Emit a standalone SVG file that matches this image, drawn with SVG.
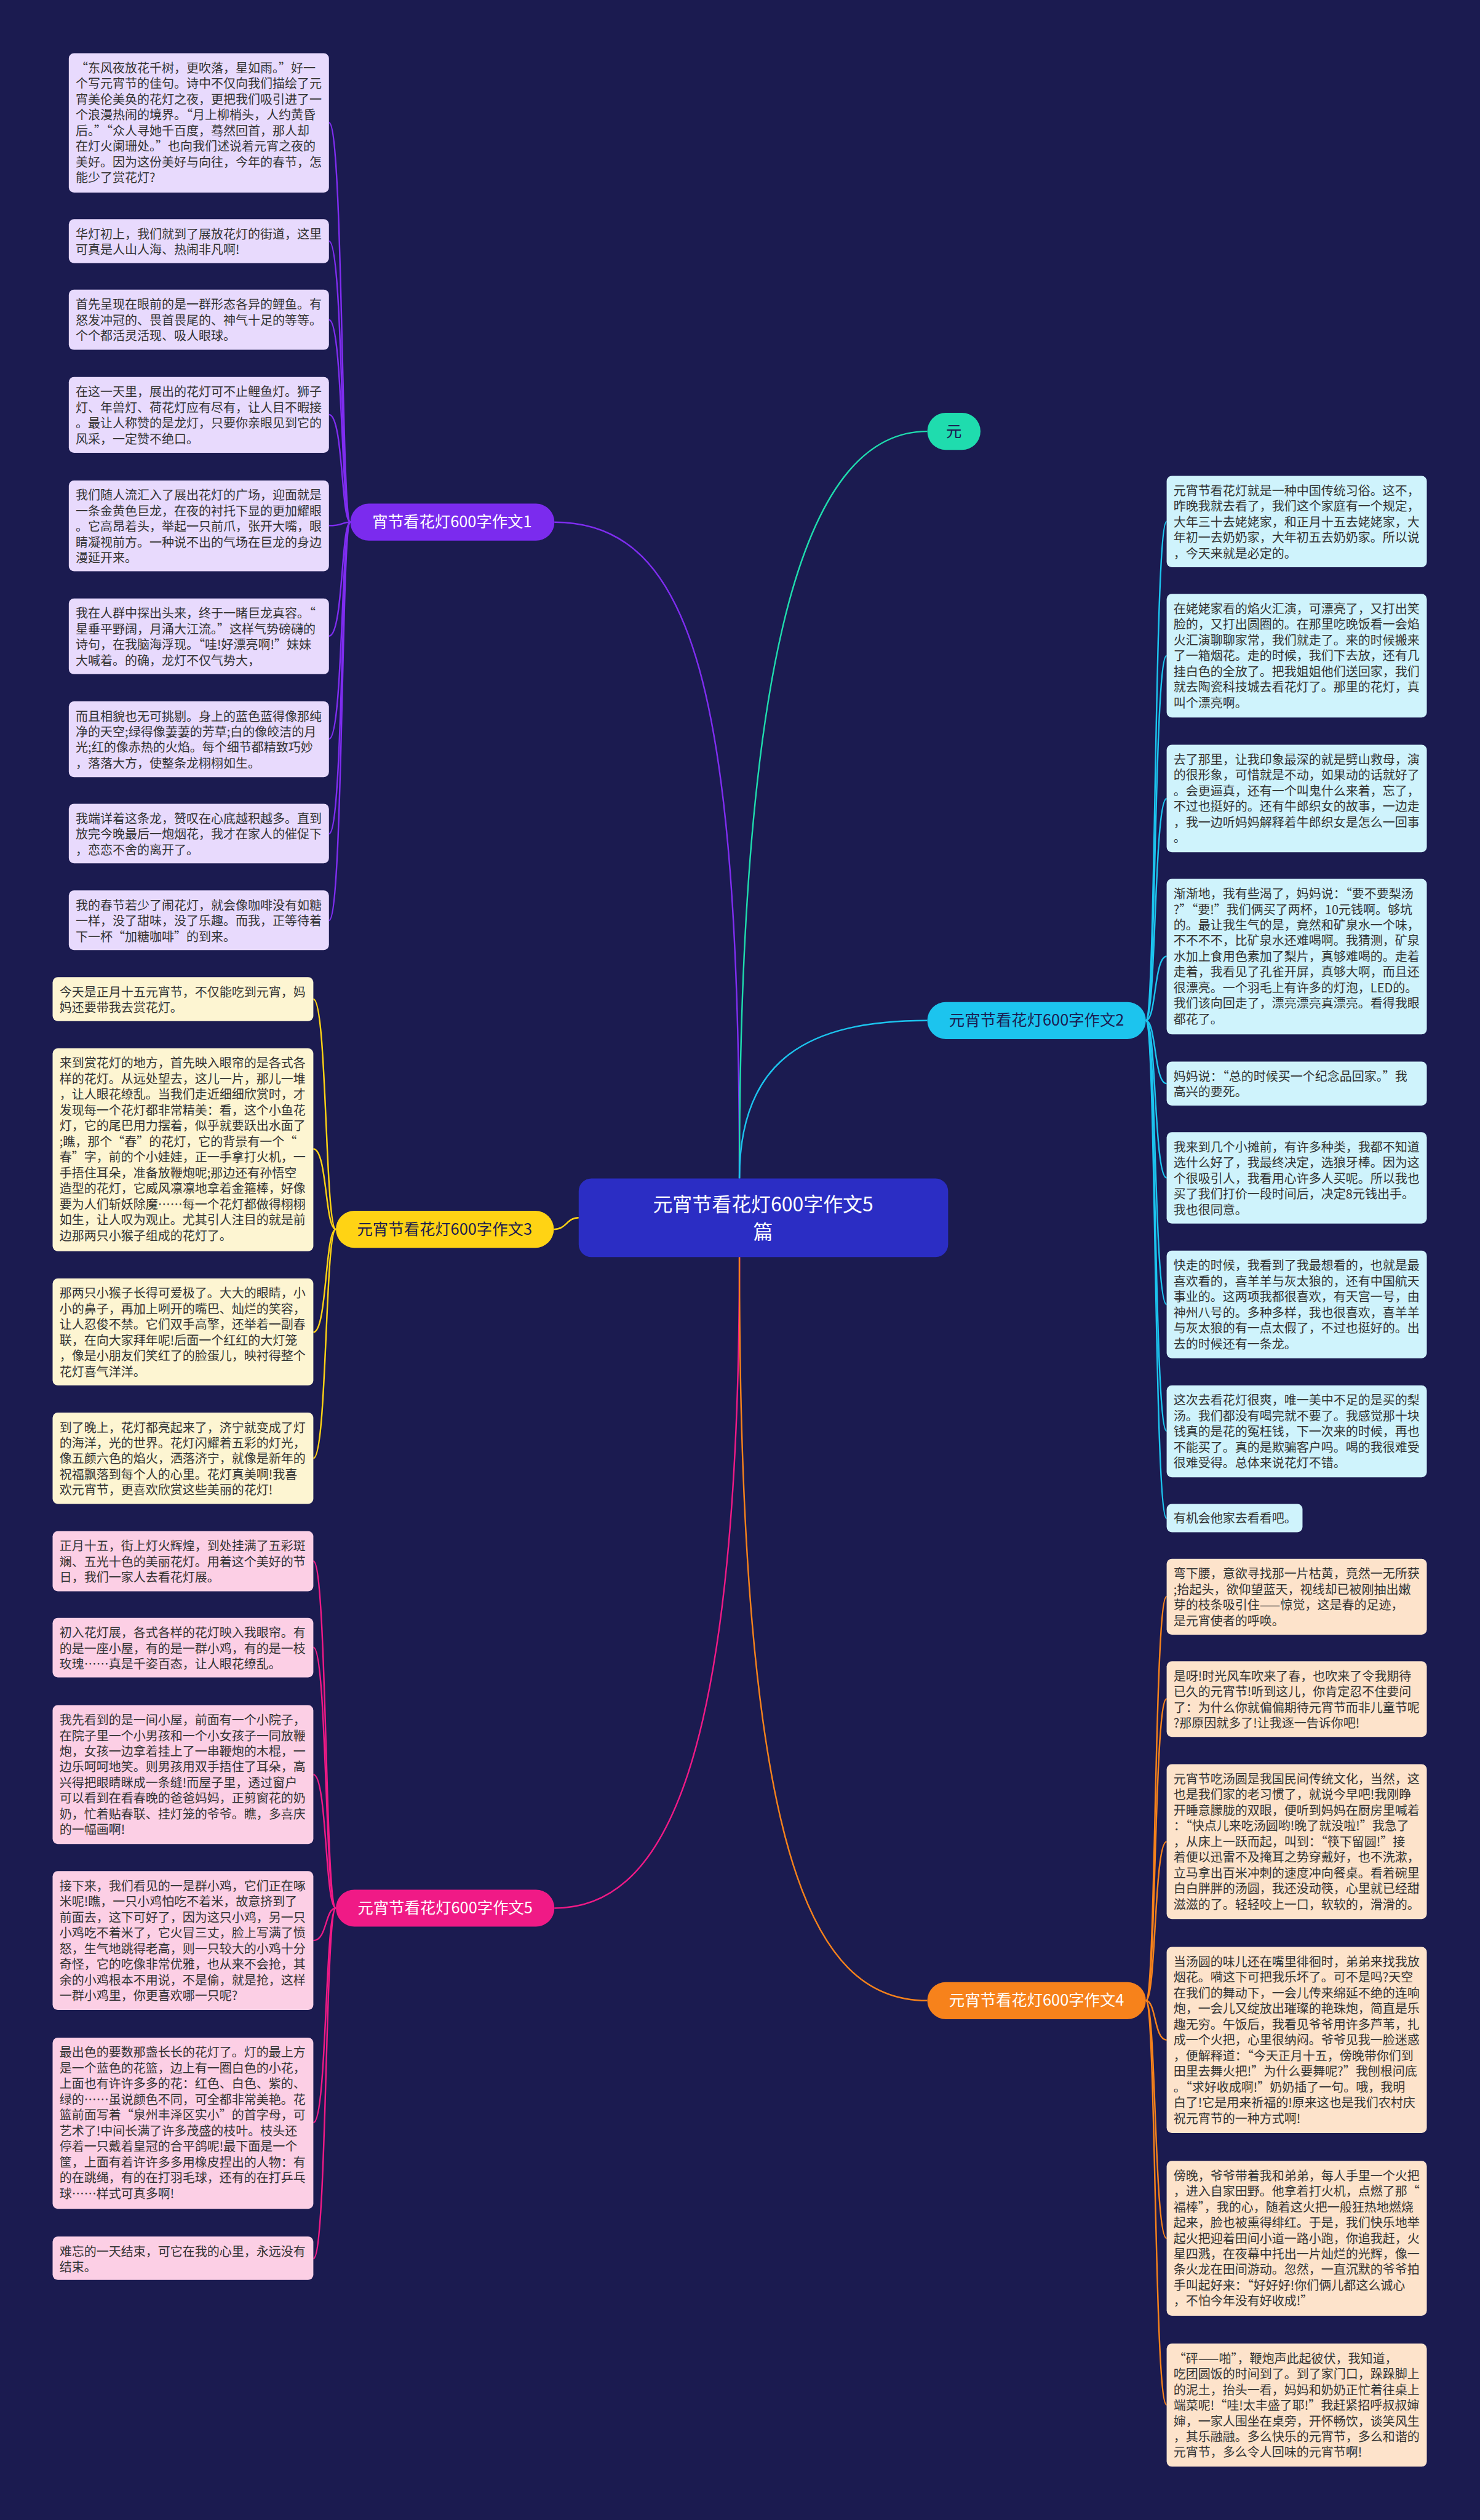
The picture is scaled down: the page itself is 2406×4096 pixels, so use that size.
<svg xmlns="http://www.w3.org/2000/svg" width="2406" height="4096" viewBox="0 0 2406 4096">
<style>
.t{font-family:"Noto Sans CJK SC","Noto Sans",sans-serif;font-size:21.3px;fill:#333}
.pt{font-family:"Noto Sans CJK SC","Noto Sans",sans-serif;font-size:27px;text-anchor:middle}
.rt{font-family:"Noto Sans CJK SC","Noto Sans",sans-serif;font-size:34px;text-anchor:middle;fill:#fff}
.c{fill:none;stroke-width:2.6}
.bp{fill:#e8dafd}.by{fill:#fdf5d2}.bk{fill:#fccfe5}.bc{fill:#cff3fc}.bo{fill:#fde3cb}
</style>
<rect width="2406" height="4096" fill="#1b1b50"/>
<g transform="scale(0.93984)">
<g id="connectors">
<path class="c" stroke="#7f2df0" stroke-width="3.2" d="M1279 2038 C1279 1200 1200 903 959 903"/>
<path class="c" stroke="#1fdcae" stroke-width="3.2" d="M1279 2038 C1279 1100 1400 746 1604 746"/>
<path class="c" stroke="#1cc4ee" stroke-width="3.2" d="M1279 2038 C1279 1830 1400 1765 1604 1765"/>
<path class="c" stroke="#ffd314" stroke-width="3.2" d="M1001 2106 C980 2106 980 2126 958 2126"/>
<path class="c" stroke="#f01a86" stroke-width="3.2" d="M1279 2174 C1279 3050 1150 3300 959 3300"/>
<path class="c" stroke="#f7821b" stroke-width="3.2" d="M1279 2174 C1279 3200 1400 3460 1604 3460"/>
<g stroke="#7f2df0">
<path class="c" d="M606 903 C590 903 594 212 569 212"/>
<path class="c" d="M606 903 C590 903 594 417 569 417"/>
<path class="c" d="M606 903 C590 903 594 553 569 553"/>
<path class="c" d="M606 903 C590 903 594 717 569 717"/>
<path class="c" d="M606 903 C590 903 594 909 569 909"/>
<path class="c" d="M606 903 C590 903 594 1100 569 1100"/>
<path class="c" d="M606 903 C590 903 594 1278 569 1278"/>
<path class="c" d="M606 903 C590 903 594 1442 569 1442"/>
<path class="c" d="M606 903 C590 903 594 1592 569 1592"/>
</g>
<g stroke="#ffd314">
<path class="c" d="M581 2126 C562 2126 566 1728 542 1728"/>
<path class="c" d="M581 2126 C562 2126 566 1987 542 1987"/>
<path class="c" d="M581 2126 C562 2126 566 2304 542 2304"/>
<path class="c" d="M581 2126 C562 2126 566 2522 542 2522"/>
</g>
<g stroke="#f01a86">
<path class="c" d="M581 3300 C562 3300 566 2700 542 2700"/>
<path class="c" d="M581 3300 C562 3300 566 2849 542 2849"/>
<path class="c" d="M581 3300 C562 3300 566 3069 542 3069"/>
<path class="c" d="M581 3300 C562 3300 566 3356 542 3356"/>
<path class="c" d="M581 3300 C562 3300 566 3671 542 3671"/>
<path class="c" d="M581 3300 C562 3300 566 3906 542 3906"/>
</g>
<g stroke="#1cc4ee">
<path class="c" d="M1982 1765 C2000 1765 1996 902 2018 902"/>
<path class="c" d="M1982 1765 C2000 1765 1996 1134 2018 1134"/>
<path class="c" d="M1982 1765 C2000 1765 1996 1381 2018 1381"/>
<path class="c" d="M1982 1765 C2000 1765 1996 1654 2018 1654"/>
<path class="c" d="M1982 1765 C2000 1765 1996 1874 2018 1874"/>
<path class="c" d="M1982 1765 C2000 1765 1996 2037 2018 2037"/>
<path class="c" d="M1982 1765 C2000 1765 1996 2256 2018 2256"/>
<path class="c" d="M1982 1765 C2000 1765 1996 2475 2018 2475"/>
<path class="c" d="M1982 1765 C2000 1765 1996 2626 2018 2626"/>
</g>
<g stroke="#f7821b">
<path class="c" d="M1982 3460 C2000 3460 1996 2761 2018 2761"/>
<path class="c" d="M1982 3460 C2000 3460 1996 2938 2018 2938"/>
<path class="c" d="M1982 3460 C2000 3460 1996 3185 2018 3185"/>
<path class="c" d="M1982 3460 C2000 3460 1996 3528 2018 3528"/>
<path class="c" d="M1982 3460 C2000 3460 1996 3871 2018 3871"/>
<path class="c" d="M1982 3460 C2000 3460 1996 4159 2018 4159"/>
</g>
</g>

<g id="root">
<rect x="1001" y="2038" width="639" height="136" rx="22" fill="#2b2dc4"/>
<text class="rt" x="1320" y="2095">元宵节看花灯600字作文5</text>
<text class="rt" x="1320" y="2143">篇</text>
</g>

<g id="b1"><rect x="606" y="871" width="353" height="64" rx="32" fill="#7b2bee"/><text class="pt" x="782" y="912" fill="#fff">宵节看花灯600字作文1</text></g>
<g id="b0"><rect x="1604" y="714" width="92" height="64" rx="32" fill="#1fdcae"/><text class="pt" x="1650" y="755" fill="#1b1b50">元</text></g>
<g id="b2"><rect x="1604" y="1733" width="378" height="64" rx="32" fill="#1cc4ee"/><text class="pt" x="1793" y="1774" fill="#1b1b50">元宵节看花灯600字作文2</text></g>
<g id="b3"><rect x="581" y="2094" width="377" height="64" rx="32" fill="#ffd314"/><text class="pt" x="769" y="2135" fill="#1b1b50">元宵节看花灯600字作文3</text></g>
<g id="b5"><rect x="581" y="3268" width="378" height="64" rx="32" fill="#f01a86"/><text class="pt" x="770" y="3309" fill="#fff">元宵节看花灯600字作文5</text></g>
<g id="b4"><rect x="1604" y="3428" width="378" height="64" rx="32" fill="#f7821b"/><text class="pt" x="1793" y="3469" fill="#fff">元宵节看花灯600字作文4</text></g>

<g id="a1" transform="translate(119,92)"><rect class="bp" width="450" height="241" rx="9"/>
<text class="t" x="12" y="33.5">“东风夜放花千树，更吹落，星如雨。”好一</text>
<text class="t" x="12" y="60.6">个写元宵节的佳句。诗中不仅向我们描绘了元</text>
<text class="t" x="12" y="87.7">宵美伦美奂的花灯之夜，更把我们吸引进了一</text>
<text class="t" x="12" y="114.8">个浪漫热闹的境界。“月上柳梢头，人约黄昏</text>
<text class="t" x="12" y="141.9">后。”“众人寻她千百度，蓦然回首，那人却</text>
<text class="t" x="12" y="169">在灯火阑珊处。”也向我们述说着元宵之夜的</text>
<text class="t" x="12" y="196.1">美好。因为这份美好与向往，今年的春节，怎</text>
<text class="t" x="12" y="223.2">能少了赏花灯?</text></g>
<g id="a2" transform="translate(119,379)"><rect class="bp" width="450" height="76" rx="9"/>
<text class="t" x="12" y="33.5">华灯初上，我们就到了展放花灯的街道，这里</text>
<text class="t" x="12" y="60.6">可真是人山人海、热闹非凡啊!</text></g>
<g id="a3" transform="translate(119,501)"><rect class="bp" width="450" height="104" rx="9"/>
<text class="t" x="12" y="33.5">首先呈现在眼前的是一群形态各异的鲤鱼。有</text>
<text class="t" x="12" y="60.6">怒发冲冠的、畏首畏尾的、神气十足的等等。</text>
<text class="t" x="12" y="87.7">个个都活灵活现、吸人眼球。</text></g>
<g id="a4" transform="translate(119,652)"><rect class="bp" width="450" height="131" rx="9"/>
<text class="t" x="12" y="33.5">在这一天里，展出的花灯可不止鲤鱼灯。狮子</text>
<text class="t" x="12" y="60.6">灯、年兽灯、荷花灯应有尽有，让人目不暇接</text>
<text class="t" x="12" y="87.7">。最让人称赞的是龙灯，只要你亲眼见到它的</text>
<text class="t" x="12" y="114.8">风采，一定赞不绝口。</text></g>
<g id="a5" transform="translate(119,831)"><rect class="bp" width="450" height="157" rx="9"/>
<text class="t" x="12" y="33.5">我们随人流汇入了展出花灯的广场，迎面就是</text>
<text class="t" x="12" y="60.6">一条金黄色巨龙，在夜的衬托下显的更加耀眼</text>
<text class="t" x="12" y="87.7">。它高昂着头，举起一只前爪，张开大嘴，眼</text>
<text class="t" x="12" y="114.8">睛凝视前方。一种说不出的气场在巨龙的身边</text>
<text class="t" x="12" y="141.9">漫延开来。</text></g>
<g id="a6" transform="translate(119,1035)"><rect class="bp" width="450" height="131" rx="9"/>
<text class="t" x="12" y="33.5">我在人群中探出头来，终于一睹巨龙真容。“</text>
<text class="t" x="12" y="60.6">星垂平野阔，月涌大江流。”这样气势磅礴的</text>
<text class="t" x="12" y="87.7">诗句，在我脑海浮现。“哇!好漂亮啊!”妹妹</text>
<text class="t" x="12" y="114.8">大喊着。的确，龙灯不仅气势大，</text></g>
<g id="a7" transform="translate(119,1213)"><rect class="bp" width="450" height="131" rx="9"/>
<text class="t" x="12" y="33.5">而且相貌也无可挑剔。身上的蓝色蓝得像那纯</text>
<text class="t" x="12" y="60.6">净的天空;绿得像萋萋的芳草;白的像皎洁的月</text>
<text class="t" x="12" y="87.7">光;红的像赤热的火焰。每个细节都精致巧妙</text>
<text class="t" x="12" y="114.8">，落落大方，使整条龙栩栩如生。</text></g>
<g id="a8" transform="translate(119,1390)"><rect class="bp" width="450" height="103" rx="9"/>
<text class="t" x="12" y="33.5">我端详着这条龙，赞叹在心底越积越多。直到</text>
<text class="t" x="12" y="60.6">放完今晚最后一炮烟花，我才在家人的催促下</text>
<text class="t" x="12" y="87.7">，恋恋不舍的离开了。</text></g>
<g id="a9" transform="translate(119,1540)"><rect class="bp" width="450" height="103" rx="9"/>
<text class="t" x="12" y="33.5">我的春节若少了闹花灯，就会像咖啡没有如糖</text>
<text class="t" x="12" y="60.6">一样，没了甜味，没了乐趣。而我，正等待着</text>
<text class="t" x="12" y="87.7">下一杯“加糖咖啡”的到来。</text></g>

<g id="y1" transform="translate(91,1690)"><rect class="by" width="451" height="76" rx="9"/>
<text class="t" x="12" y="33.5">今天是正月十五元宵节，不仅能吃到元宵，妈</text>
<text class="t" x="12" y="60.6">妈还要带我去赏花灯。</text></g>
<g id="y2" transform="translate(91,1813)"><rect class="by" width="451" height="351" rx="9"/>
<text class="t" x="12" y="33.5">来到赏花灯的地方，首先映入眼帘的是各式各</text>
<text class="t" x="12" y="60.6">样的花灯。从远处望去，这儿一片，那儿一堆</text>
<text class="t" x="12" y="87.7">，让人眼花缭乱。当我们走近细细欣赏时，才</text>
<text class="t" x="12" y="114.8">发现每一个花灯都非常精美：看，这个小鱼花</text>
<text class="t" x="12" y="141.9">灯，它的尾巴用力摆着，似乎就要跃出水面了</text>
<text class="t" x="12" y="169">;瞧，那个“春”的花灯，它的背景有一个“</text>
<text class="t" x="12" y="196.1">春”字，前的个小娃娃，正一手拿打火机，一</text>
<text class="t" x="12" y="223.2">手捂住耳朵，准备放鞭炮呢;那边还有孙悟空</text>
<text class="t" x="12" y="250.3">造型的花灯，它威风凛凛地拿着金箍棒，好像</text>
<text class="t" x="12" y="277.4">要为人们斩妖除魔……每一个花灯都做得栩栩</text>
<text class="t" x="12" y="304.5">如生，让人叹为观止。尤其引人注目的就是前</text>
<text class="t" x="12" y="331.6">边那两只小猴子组成的花灯了。</text></g>
<g id="y3" transform="translate(91,2211)"><rect class="by" width="451" height="185" rx="9"/>
<text class="t" x="12" y="33.5">那两只小猴子长得可爱极了。大大的眼睛，小</text>
<text class="t" x="12" y="60.6">小的鼻子，再加上咧开的嘴巴、灿烂的笑容，</text>
<text class="t" x="12" y="87.7">让人忍俊不禁。它们双手高擎，还举着一副春</text>
<text class="t" x="12" y="114.8">联，在向大家拜年呢!后面一个红红的大灯笼</text>
<text class="t" x="12" y="141.9">，像是小朋友们笑红了的脸蛋儿，映衬得整个</text>
<text class="t" x="12" y="169">花灯喜气洋洋。</text></g>
<g id="y4" transform="translate(91,2443)"><rect class="by" width="451" height="158" rx="9"/>
<text class="t" x="12" y="33.5">到了晚上，花灯都亮起来了，济宁就变成了灯</text>
<text class="t" x="12" y="60.6">的海洋，光的世界。花灯闪耀着五彩的灯光，</text>
<text class="t" x="12" y="87.7">像五颜六色的焰火，洒落济宁，就像是新年的</text>
<text class="t" x="12" y="114.8">祝福飘落到每个人的心里。花灯真美啊!我喜</text>
<text class="t" x="12" y="141.9">欢元宵节，更喜欢欣赏这些美丽的花灯!</text></g>

<g id="k1" transform="translate(91,2648)"><rect class="bk" width="451" height="104" rx="9"/>
<text class="t" x="12" y="33.5">正月十五，街上灯火辉煌，到处挂满了五彩斑</text>
<text class="t" x="12" y="60.6">斓、五光十色的美丽花灯。用着这个美好的节</text>
<text class="t" x="12" y="87.7">日，我们一家人去看花灯展。</text></g>
<g id="k2" transform="translate(91,2798)"><rect class="bk" width="451" height="103" rx="9"/>
<text class="t" x="12" y="33.5">初入花灯展，各式各样的花灯映入我眼帘。有</text>
<text class="t" x="12" y="60.6">的是一座小屋，有的是一群小鸡，有的是一枝</text>
<text class="t" x="12" y="87.7">玫瑰……真是千姿百态，让人眼花缭乱。</text></g>
<g id="k3" transform="translate(91,2949)"><rect class="bk" width="451" height="240" rx="9"/>
<text class="t" x="12" y="33.5">我先看到的是一间小屋，前面有一个小院子，</text>
<text class="t" x="12" y="60.6">在院子里一个小男孩和一个小女孩子一同放鞭</text>
<text class="t" x="12" y="87.7">炮，女孩一边拿着挂上了一串鞭炮的木棍，一</text>
<text class="t" x="12" y="114.8">边乐呵呵地笑。则男孩用双手捂住了耳朵，高</text>
<text class="t" x="12" y="141.9">兴得把眼睛眯成一条缝!而屋子里，透过窗户</text>
<text class="t" x="12" y="169">可以看到在看春晚的爸爸妈妈，正剪窗花的奶</text>
<text class="t" x="12" y="196.1">奶，忙着贴春联、挂灯笼的爷爷。瞧，多喜庆</text>
<text class="t" x="12" y="223.2">的一幅画啊!</text></g>
<g id="k4" transform="translate(91,3236)"><rect class="bk" width="451" height="240" rx="9"/>
<text class="t" x="12" y="33.5">接下来，我们看见的一是群小鸡，它们正在啄</text>
<text class="t" x="12" y="60.6">米呢!瞧，一只小鸡怕吃不着米，故意挤到了</text>
<text class="t" x="12" y="87.7">前面去，这下可好了，因为这只小鸡，另一只</text>
<text class="t" x="12" y="114.8">小鸡吃不着米了，它火冒三丈，脸上写满了愤</text>
<text class="t" x="12" y="141.9">怒，生气地跳得老高，则一只较大的小鸡十分</text>
<text class="t" x="12" y="169">奇怪，它的吃像非常优雅，也从来不会抢，其</text>
<text class="t" x="12" y="196.1">余的小鸡根本不用说，不是偷，就是抢，这样</text>
<text class="t" x="12" y="223.2">一群小鸡里，你更喜欢哪一只呢?</text></g>
<g id="k5" transform="translate(91,3524)"><rect class="bk" width="451" height="296" rx="9"/>
<text class="t" x="12" y="33.5">最出色的要数那盏长长的花灯了。灯的最上方</text>
<text class="t" x="12" y="60.6">是一个蓝色的花篮，边上有一圈白色的小花，</text>
<text class="t" x="12" y="87.7">上面也有许许多多的花：红色、白色、紫的、</text>
<text class="t" x="12" y="114.8">绿的……虽说颜色不同，可全都非常美艳。花</text>
<text class="t" x="12" y="141.9">篮前面写着“泉州丰泽区实小”的首字母，可</text>
<text class="t" x="12" y="169">艺术了!中间长满了许多茂盛的枝叶。枝头还</text>
<text class="t" x="12" y="196.1">停着一只戴着皇冠的合平鸽呢!最下面是一个</text>
<text class="t" x="12" y="223.2">筐，上面有着许许多多用橡皮捏出的人物：有</text>
<text class="t" x="12" y="250.3">的在跳绳，有的在打羽毛球，还有的在打乒乓</text>
<text class="t" x="12" y="277.4">球……样式可真多啊!</text></g>
<g id="k6" transform="translate(91,3868)"><rect class="bk" width="451" height="75" rx="9"/>
<text class="t" x="12" y="33.5">难忘的一天结束，可它在我的心里，永远没有</text>
<text class="t" x="12" y="60.6">结束。</text></g>

<g id="c1" transform="translate(2018,823)"><rect class="bc" width="450" height="158" rx="9"/>
<text class="t" x="12" y="33.5">元宵节看花灯就是一种中国传统习俗。这不，</text>
<text class="t" x="12" y="60.6">昨晚我就去看了，我们这个家庭有一个规定，</text>
<text class="t" x="12" y="87.7">大年三十去姥姥家，和正月十五去姥姥家，大</text>
<text class="t" x="12" y="114.8">年初一去奶奶家，大年初五去奶奶家。所以说</text>
<text class="t" x="12" y="141.9">，今天来就是必定的。</text></g>
<g id="c2" transform="translate(2018,1027)"><rect class="bc" width="450" height="214" rx="9"/>
<text class="t" x="12" y="33.5">在姥姥家看的焰火汇演，可漂亮了，又打出笑</text>
<text class="t" x="12" y="60.6">脸的，又打出圆圈的。在那里吃晚饭看一会焰</text>
<text class="t" x="12" y="87.7">火汇演聊聊家常，我们就走了。来的时候搬来</text>
<text class="t" x="12" y="114.8">了一箱烟花。走的时候，我们下去放，还有几</text>
<text class="t" x="12" y="141.9">挂白色的全放了。把我姐姐他们送回家，我们</text>
<text class="t" x="12" y="169">就去陶瓷科技城去看花灯了。那里的花灯，真</text>
<text class="t" x="12" y="196.1">叫个漂亮啊。</text></g>
<g id="c3" transform="translate(2018,1288)"><rect class="bc" width="450" height="186" rx="9"/>
<text class="t" x="12" y="33.5">去了那里，让我印象最深的就是劈山救母，演</text>
<text class="t" x="12" y="60.6">的很形象，可惜就是不动，如果动的话就好了</text>
<text class="t" x="12" y="87.7">。会更逼真，还有一个叫鬼什么来着，忘了，</text>
<text class="t" x="12" y="114.8">不过也挺好的。还有牛郎织女的故事，一边走</text>
<text class="t" x="12" y="141.9">，我一边听妈妈解释着牛郎织女是怎么一回事</text>
<text class="t" x="12" y="169">。</text></g>
<g id="c4" transform="translate(2018,1520)"><rect class="bc" width="450" height="269" rx="9"/>
<text class="t" x="12" y="33.5">渐渐地，我有些渴了，妈妈说：“要不要梨汤</text>
<text class="t" x="12" y="60.6">?”“要!”我们俩买了两杯，10元钱啊。够坑</text>
<text class="t" x="12" y="87.7">的。最让我生气的是，竟然和矿泉水一个味，</text>
<text class="t" x="12" y="114.8">不不不不，比矿泉水还难喝啊。我猜测，矿泉</text>
<text class="t" x="12" y="141.9">水加上食用色素加了梨片，真够难喝的。走着</text>
<text class="t" x="12" y="169">走着，我看见了孔雀开屏，真够大啊，而且还</text>
<text class="t" x="12" y="196.1">很漂亮。一个羽毛上有许多的灯泡，LED的。</text>
<text class="t" x="12" y="223.2">我们该向回走了，漂亮漂亮真漂亮。看得我眼</text>
<text class="t" x="12" y="250.3">都花了。</text></g>
<g id="c5" transform="translate(2018,1836)"><rect class="bc" width="450" height="76" rx="9"/>
<text class="t" x="12" y="33.5">妈妈说：“总的时候买一个纪念品回家。”我</text>
<text class="t" x="12" y="60.6">高兴的要死。</text></g>
<g id="c6" transform="translate(2018,1958)"><rect class="bc" width="450" height="158" rx="9"/>
<text class="t" x="12" y="33.5">我来到几个小摊前，有许多种类，我都不知道</text>
<text class="t" x="12" y="60.6">选什么好了，我最终决定，选狼牙棒。因为这</text>
<text class="t" x="12" y="87.7">个很吸引人，我看用心许多人买呢。所以我也</text>
<text class="t" x="12" y="114.8">买了我们打价一段时间后，决定8元钱出手。</text>
<text class="t" x="12" y="141.9">我也很同意。</text></g>
<g id="c7" transform="translate(2018,2163)"><rect class="bc" width="450" height="186" rx="9"/>
<text class="t" x="12" y="33.5">快走的时候，我看到了我最想看的，也就是最</text>
<text class="t" x="12" y="60.6">喜欢看的，喜羊羊与灰太狼的，还有中国航天</text>
<text class="t" x="12" y="87.7">事业的。这两项我都很喜欢，有天宫一号，由</text>
<text class="t" x="12" y="114.8">神州八号的。多种多样，我也很喜欢，喜羊羊</text>
<text class="t" x="12" y="141.9">与灰太狼的有一点太假了，不过也挺好的。出</text>
<text class="t" x="12" y="169">去的时候还有一条龙。</text></g>
<g id="c8" transform="translate(2018,2396)"><rect class="bc" width="450" height="159" rx="9"/>
<text class="t" x="12" y="33.5">这次去看花灯很爽，唯一美中不足的是买的梨</text>
<text class="t" x="12" y="60.6">汤。我们都没有喝完就不要了。我感觉那十块</text>
<text class="t" x="12" y="87.7">钱真的是花的冤枉钱，下一次来的时候，再也</text>
<text class="t" x="12" y="114.8">不能买了。真的是欺骗客户吗。喝的我很难受</text>
<text class="t" x="12" y="141.9">很难受得。总体来说花灯不错。</text></g>
<g id="c9" transform="translate(2018,2601)"><rect class="bc" width="235" height="49" rx="9"/>
<text class="t" x="12" y="32.5">有机会他家去看看吧。</text></g>

<g id="o1" transform="translate(2018,2696)"><rect class="bo" width="450" height="131" rx="9"/>
<text class="t" x="12" y="33.5">弯下腰，意欲寻找那一片枯黄，竟然一无所获</text>
<text class="t" x="12" y="60.6">;抬起头，欲仰望蓝天，视线却已被刚抽出嫩</text>
<text class="t" x="12" y="87.7">芽的枝条吸引住——惊觉，这是春的足迹，</text>
<text class="t" x="12" y="114.8">是元宵使者的呼唤。</text></g>
<g id="o2" transform="translate(2018,2873)"><rect class="bo" width="450" height="131" rx="9"/>
<text class="t" x="12" y="33.5">是呀!时光风车吹来了春，也吹来了令我期待</text>
<text class="t" x="12" y="60.6">已久的元宵节!听到这儿，你肯定忍不住要问</text>
<text class="t" x="12" y="87.7">了：为什么你就偏偏期待元宵节而非儿童节呢</text>
<text class="t" x="12" y="114.8">?那原因就多了!让我逐一告诉你吧!</text></g>
<g id="o3" transform="translate(2018,3051)"><rect class="bo" width="450" height="268" rx="9"/>
<text class="t" x="12" y="33.5">元宵节吃汤圆是我国民间传统文化，当然，这</text>
<text class="t" x="12" y="60.6">也是我们家的老习惯了，就说今早吧!我刚睁</text>
<text class="t" x="12" y="87.7">开睡意朦胧的双眼，便听到妈妈在厨房里喊着</text>
<text class="t" x="12" y="114.8">：“快点儿来吃汤圆哟!晚了就没啦!”我急了</text>
<text class="t" x="12" y="141.9">，从床上一跃而起，叫到：“筷下留圆!”接</text>
<text class="t" x="12" y="169">着便以迅雷不及掩耳之势穿戴好，也不洗漱，</text>
<text class="t" x="12" y="196.1">立马拿出百米冲刺的速度冲向餐桌。看着碗里</text>
<text class="t" x="12" y="223.2">白白胖胖的汤圆，我还没动筷，心里就已经甜</text>
<text class="t" x="12" y="250.3">滋滋的了。轻轻咬上一口，软软的，滑滑的。</text></g>
<g id="o4" transform="translate(2018,3367)"><rect class="bo" width="450" height="322" rx="9"/>
<text class="t" x="12" y="33.5">当汤圆的味儿还在嘴里徘徊时，弟弟来找我放</text>
<text class="t" x="12" y="60.6">烟花。嗬这下可把我乐坏了。可不是吗?天空</text>
<text class="t" x="12" y="87.7">在我们的舞动下，一会儿传来绵延不绝的连响</text>
<text class="t" x="12" y="114.8">炮，一会儿又绽放出璀璨的艳珠炮，简直是乐</text>
<text class="t" x="12" y="141.9">趣无穷。午饭后，我看见爷爷用许多芦苇，扎</text>
<text class="t" x="12" y="169">成一个火把，心里很纳闷。爷爷见我一脸迷惑</text>
<text class="t" x="12" y="196.1">，便解释道：“今天正月十五，傍晚带你们到</text>
<text class="t" x="12" y="223.2">田里去舞火把!”为什么要舞呢?”我刨根问底</text>
<text class="t" x="12" y="250.3">。“求好收成啊!”奶奶插了一句。哦，我明</text>
<text class="t" x="12" y="277.4">白了!它是用来祈福的!原来这也是我们农村庆</text>
<text class="t" x="12" y="304.5">祝元宵节的一种方式啊!</text></g>
<g id="o5" transform="translate(2018,3737)"><rect class="bo" width="450" height="268" rx="9"/>
<text class="t" x="12" y="33.5">傍晚，爷爷带着我和弟弟，每人手里一个火把</text>
<text class="t" x="12" y="60.6">，进入自家田野。他拿着打火机，点燃了那“</text>
<text class="t" x="12" y="87.7">福棒”，我的心，随着这火把一般狂热地燃烧</text>
<text class="t" x="12" y="114.8">起来，脸也被熏得绯红。于是，我们快乐地举</text>
<text class="t" x="12" y="141.9">起火把迎着田间小道一路小跑，你追我赶，火</text>
<text class="t" x="12" y="169">星四溅，在夜幕中托出一片灿烂的光辉，像一</text>
<text class="t" x="12" y="196.1">条火龙在田间游动。忽然，一直沉默的爷爷拍</text>
<text class="t" x="12" y="223.2">手叫起好来：“好好好!你们俩儿都这么诚心</text>
<text class="t" x="12" y="250.3">，不怕今年没有好收成!”</text></g>
<g id="o6" transform="translate(2018,4053)"><rect class="bo" width="450" height="213" rx="9"/>
<text class="t" x="12" y="33.5">“砰——啪”，鞭炮声此起彼伏，我知道，</text>
<text class="t" x="12" y="60.6">吃团圆饭的时间到了。到了家门口，跺跺脚上</text>
<text class="t" x="12" y="87.7">的泥土，抬头一看，妈妈和奶奶正忙着往桌上</text>
<text class="t" x="12" y="114.8">端菜呢!“哇!太丰盛了耶!”我赶紧招呼叔叔婶</text>
<text class="t" x="12" y="141.9">婶，一家人围坐在桌旁，开怀畅饮，谈笑风生</text>
<text class="t" x="12" y="169">，其乐融融。多么快乐的元宵节，多么和谐的</text>
<text class="t" x="12" y="196.1">元宵节，多么令人回味的元宵节啊!</text></g>
</g>
</svg>
